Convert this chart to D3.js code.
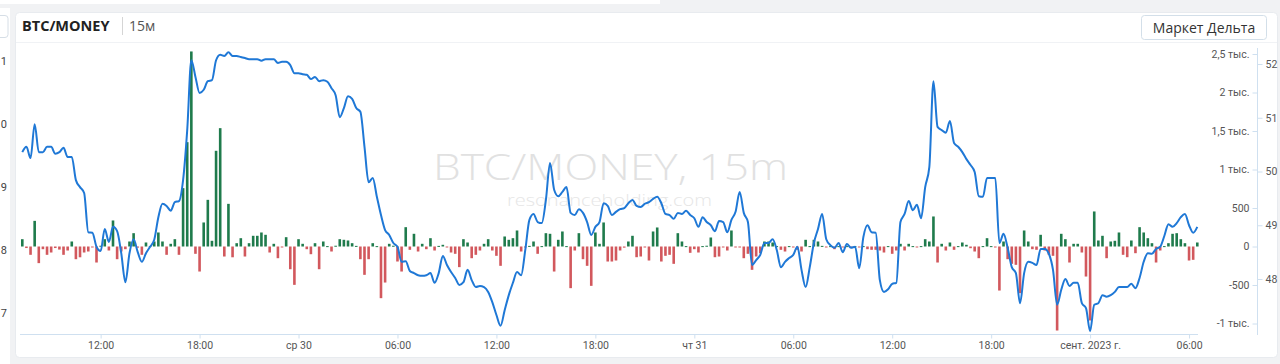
<!DOCTYPE html>
<meta charset="utf-8">
<style>
    body { margin: 0; background: #f1f2f4; }
    svg { display: block; }
    .axis text { font-family: Roboto, "Liberation Sans", sans-serif; font-size: 10.5px; fill: #555; }
    .axis line, .axis path { stroke: #cfe0f0; }
</style>
<body>
<script src="https://cdn.jsdelivr.net/npm/d3@7"></script>
<script>

    var width = 1280,
        height = 364;

    // 15-минутные бары, первый бар 29.08 07:15
    var startTime = new Date(2023, 7, 29, 7, 15);

    var price = [
        50.36, 50.46, 50.25, 50.88, 50.36, 50.36, 50.46, 50.46, 50.33, 50.36,
        50.44, 50.27, 50.27, 49.84, 49.71, 49.60, 48.87, 48.86, 48.60, 48.52,
        48.93, 48.69, 48.97, 48.89, 48.48, 47.94, 48.48, 48.74, 48.50, 48.32,
        48.48, 48.60, 48.73, 49.15, 49.40, 49.36, 49.27, 49.43, 49.45, 49.84,
        50.77, 52.07, 51.76, 51.46, 51.52, 51.68, 51.70, 52.07, 52.17, 52.15,
        52.22, 52.15, 52.15, 52.13, 52.11, 52.09, 52.09, 52.09, 52.06, 52.09,
        52.09, 52.09, 52.02, 52.04, 52.04, 51.98, 51.83, 51.83, 51.81, 51.80,
        51.72, 51.76, 51.68, 51.70, 51.67, 51.55, 51.42, 51.01, 51.18, 51.40,
        51.35, 51.18, 51.11, 50.46, 49.80, 49.88, 49.53, 49.19, 48.91, 48.82,
        48.67, 48.60, 48.32, 48.33, 48.15, 48.11, 48.07, 48.06, 48.07, 48.11,
        47.93, 48.11, 48.43, 48.26, 48.13, 48.02, 47.89, 47.94, 48.17, 47.98,
        47.85, 47.87, 47.85, 47.76, 47.57, 47.33, 47.13, 47.42, 47.70, 47.93,
        48.13, 48.07, 48.54, 49.10, 49.21, 49.06, 49.04, 49.47, 50.16, 49.66,
        49.54, 49.62, 49.71, 49.23, 49.19, 49.30, 49.23, 49.06, 48.82, 48.97,
        49.06, 49.41, 49.36, 49.19, 49.25, 49.30, 49.32, 49.41, 49.47, 49.36,
        49.34, 49.40, 49.43, 49.49, 49.53, 49.41, 49.21, 49.19, 49.12, 49.23,
        49.21, 49.27, 49.19, 49.13, 48.97, 49.15, 49.06, 49.00, 48.89, 49.08,
        49.06, 48.87, 49.10, 49.25, 49.62, 49.23, 49.06, 48.26, 48.35, 48.45,
        48.67, 48.67, 48.74, 48.54, 48.22, 48.32, 48.39, 48.45, 48.60, 48.17,
        47.85, 48.22, 48.67, 48.93, 49.21, 48.74, 48.63, 48.58, 48.67, 48.50,
        48.65, 48.58, 48.60, 48.20, 48.78, 49.00, 48.87, 48.86, 47.98, 47.76,
        47.81, 47.91, 47.93, 49.06, 49.21, 49.45, 49.28, 49.38, 49.13, 49.71,
        50.08, 51.68, 50.83, 50.77, 50.72, 50.94, 50.53, 50.46, 50.36, 50.23,
        50.12, 49.99, 49.54, 49.53, 49.88, 49.88, 49.88, 48.67, 48.84, 48.58,
        48.22, 48.11, 47.55, 48.11, 48.32, 48.30, 48.26, 48.56, 48.56, 48.47,
        48.17, 47.52, 47.80, 48.00, 47.87, 47.93, 47.93, 47.55, 47.46, 47.03,
        47.52, 47.55, 47.70, 47.67, 47.70, 47.76, 47.85, 47.85, 47.85, 47.91,
        47.83, 48.02, 48.32, 48.48, 48.47, 48.56, 48.60, 48.80, 49.02, 48.97,
        49.04, 49.15, 49.21, 49.00, 48.86, 48.97
    ];

    var delta = [
        95, -20, -108, 333, -216, -35, -108, -78, -20, -40,
        -108, -52, 65, -165, -140, -78, -65, -10, -208, 10,
        95, -52, 338, -165, -65, -35, 65, 173, -15, -108,
        52, 5, 65, 182, 65, -108, 35, 95, -108, 758,
        1355, 2533, -95, -325, 312, 606, 74, 1243, 1537, -130,
        554, -140, 43, 108, -130, 43, 139, 139, 182, 152,
        -78, 35, -152, -10, 121, -295, -498, 95, 35, -35,
        -100, 43, -295, 65, 5, -65, 10, 95, 87, 78,
        43, 8, -165, -368, -165, 43, 5, -671, -468, 35,
        10, -195, -325, 251, -43, 165, -65, 35, -35, 108,
        -52, 8, 22, -8, -78, -95, -268, 95, 52, -152,
        -108, -52, 35, 95, -52, -121, -251, 130, 87, 108,
        208, -65, -8, 8, 65, -95, 5, 173, 165, -325,
        87, 195, 5, -541, -52, 173, -165, -251, -511, 182,
        35, 312, -195, -195, -182, -52, -15, 65, 139, -139,
        -130, -10, -182, 195, 247, -195, -121, -108, -225, 173,
        65, 5, -82, -35, -78, 5, 10, 117, -139, -130,
        -8, -52, 208, -8, -10, -152, -95, -303, -130, -87,
        65, 65, 52, 5, -43, -65, 5, -8, -43, -65,
        87, 5, 87, 65, 8, -10, 5, -35, 5, -5,
        5, -5, 5, -8, 5, -35, -43, -43, -52, -78,
        5, -95, -52, 35, -52, 35, 5, -5, 5, 95,
        65, 390, -208, 35, -52, 52, -43, 5, 52, 22,
        -22, -65, -152, 5, 108, 5, -5, -572, 65, -165,
        -225, -238, -606, 208, 65, -35, -43, 152, -52, -108,
        -121, -1091, 165, 95, -208, 35, 35, -78, -390, -961,
        455, 78, 139, -152, 65, 74, 182, -108, -139, 78,
        -87, 251, 182, 108, 43, -208, -52, 5, 43, 165,
        173, 95, 43, -182, -173, 52
    ];

    var timeLabels = ["12:00", "18:00", "ср 30", "06:00", "12:00", "18:00",
                      "чт 31", "06:00", "12:00", "18:00", "сент. 2023 г.", "06:00"];
    var deltaTicks = [2500, 2000, 1500, 1000, 500, 0, -500, -1000];
    var deltaLabels = ["2,5 тыс.", "2 тыс.", "1,5 тыс.", "1 тыс.", "500", "0", "-500", "-1 тыс."];
    var priceTicks = [48, 49, 50, 51, 52];
    var leftCutLabels = ["1", "0", "9", "8", "7"];
    var leftCutTicks = [51, 50, 49, 48, 47];

    var times = price.map(function(d, i) { return d3.timeMinute.offset(startTime, 15 * i); });

    var svg = d3.select("body").append("svg")
        .attr("width", width)
        .attr("height", height);

    // соседняя панель слева и полоска сверху
    svg.append("rect").attr("x", 0).attr("y", 0).attr("width", 660).attr("height", 4).attr("fill", "#fff");
    svg.append("rect").attr("x", 0).attr("y", 8).attr("width", 10).attr("height", 356).attr("fill", "#fff");
    svg.append("rect").attr("x", -20).attr("y", 15.5).attr("width", 28).attr("height", 22).attr("rx", 3)
        .attr("fill", "#fff").attr("stroke", "#d6dee6");

    var yLeft = d3.scaleLinear().domain([47, 51]).range([313, 61]);
    svg.selectAll(".leftcut")
        .data(leftCutTicks)
        .enter().append("text")
        .attr("class", "leftcut")
        .attr("x", 7).attr("y", function(d) { return yLeft(d) + 4; })
        .attr("text-anchor", "end")
        .style("font", "11px Roboto, sans-serif").style("fill", "#444")
        .text(function(d, i) { return leftCutLabels[i]; });

    // карточка графика
    svg.append("rect")
        .attr("x", 15.5).attr("y", 12.5).attr("width", 1262).attr("height", 345).attr("rx", 4)
        .attr("fill", "#fff").attr("stroke", "#e8ebef");
    svg.append("line").attr("x1", 16).attr("x2", 1277).attr("y1", 42.5).attr("y2", 42.5).attr("stroke", "#f0f2f5");

    svg.append("text").attr("x", 22).attr("y", 31)
        .style("font", "bold 14.5px 'Open Sans', sans-serif").style("fill", "#222").text("BTC/MONEY");
    svg.append("line").attr("x1", 122.5).attr("x2", 122.5).attr("y1", 17).attr("y2", 35).attr("stroke", "#d5d5d5");
    svg.append("text").attr("x", 129).attr("y", 31)
        .style("font", "14px 'Open Sans', sans-serif").style("fill", "#555").text("15м");

    var btn = svg.append("g").attr("transform", "translate(1141.5,15.5)");
    btn.append("rect").attr("width", 125).attr("height", 24).attr("rx", 3)
        .attr("fill", "#fff").attr("stroke", "#d3dfe9");
    btn.append("text").attr("x", 62.5).attr("y", 17).attr("text-anchor", "middle")
        .style("font", "14px 'Open Sans', sans-serif").style("fill", "#333").text("Маркет Дельта");

    // водяной знак
    svg.append("text").attr("x", 433).attr("y", 180)
        .attr("textLength", 355).attr("lengthAdjust", "spacingAndGlyphs")
        .style("font", "300 37px 'Open Sans', sans-serif").style("fill", "#e1e1e1").text("BTC/MONEY, 15m");
    svg.append("text").attr("x", 507).attr("y", 205.5)
        .attr("textLength", 205).attr("lengthAdjust", "spacingAndGlyphs")
        .style("font", "300 15.5px 'Open Sans', sans-serif").style("fill", "#e6e6e6").text("resonanceholding.com");

    // шкалы
    var x = d3.scaleTime()
        .domain([times[0], times[times.length - 1]])
        .range([22.3, 1197.3]);

    var yPrice = d3.scaleLinear().domain([48, 52]).range([279, 64]);
    var yDelta = d3.scaleLinear().domain([-1000, 2500]).range([323.5, 54]);

    // бары дельты
    svg.append("g").selectAll("rect")
        .data(delta)
        .enter().append("rect")
        .attr("x", function(d, i) { return x(times[i]) - 1.3; })
        .attr("width", 2.6)
        .attr("y", function(d) { return d >= 0 ? yDelta(d) : yDelta(0); })
        .attr("height", function(d) { return Math.max(1, Math.abs(yDelta(d) - yDelta(0))); })
        .attr("fill", function(d) { return d >= 0 ? "#1f7b4c" : "#d2585d"; });

    // линия цены
    var line = d3.line()
        .x(function(d, i) { return x(times[i]); })
        .y(function(d) { return yPrice(d); })
        .curve(d3.curveMonotoneX);

    svg.append("path")
        .datum(price)
        .attr("d", line)
        .attr("fill", "none")
        .attr("stroke", "#1f78d6")
        .attr("stroke-width", 2)
        .attr("stroke-linejoin", "round");

    // ось времени
    var tickTimes = d3.timeHour.every(6).range(new Date(2023, 7, 29, 12), new Date(2023, 8, 1, 7));
    svg.append("g")
        .attr("class", "axis")
        .attr("transform", "translate(0,334.5)")
        .call(d3.axisBottom(x)
            .tickValues(tickTimes)
            .tickFormat(function(d, i) { return timeLabels[i]; })
            .tickSize(4)
            .tickSizeOuter(0)
            .tickPadding(3))
        .call(function(g) { g.select(".domain").attr("d", "M20,0H1198"); });

    // правые оси
    svg.append("line").attr("x1", 1257.5).attr("x2", 1257.5).attr("y1", 48).attr("y2", 335)
        .attr("stroke", "#cfe0f0");

    svg.append("g")
        .attr("class", "axis")
        .attr("transform", "translate(1257.5,0)")
        .call(d3.axisLeft(yDelta)
            .tickValues(deltaTicks)
            .tickFormat(function(d, i) { return deltaLabels[i]; })
            .tickSize(5)
            .tickPadding(3))
        .call(function(g) { g.select(".domain").remove(); });

    svg.append("g")
        .attr("class", "axis")
        .attr("transform", "translate(1257.5,0)")
        .call(d3.axisRight(yPrice)
            .tickValues(priceTicks)
            .tickFormat(d3.format("d"))
            .tickSize(5)
            .tickPadding(3))
        .call(function(g) { g.select(".domain").remove(); });

</script>
</body>
